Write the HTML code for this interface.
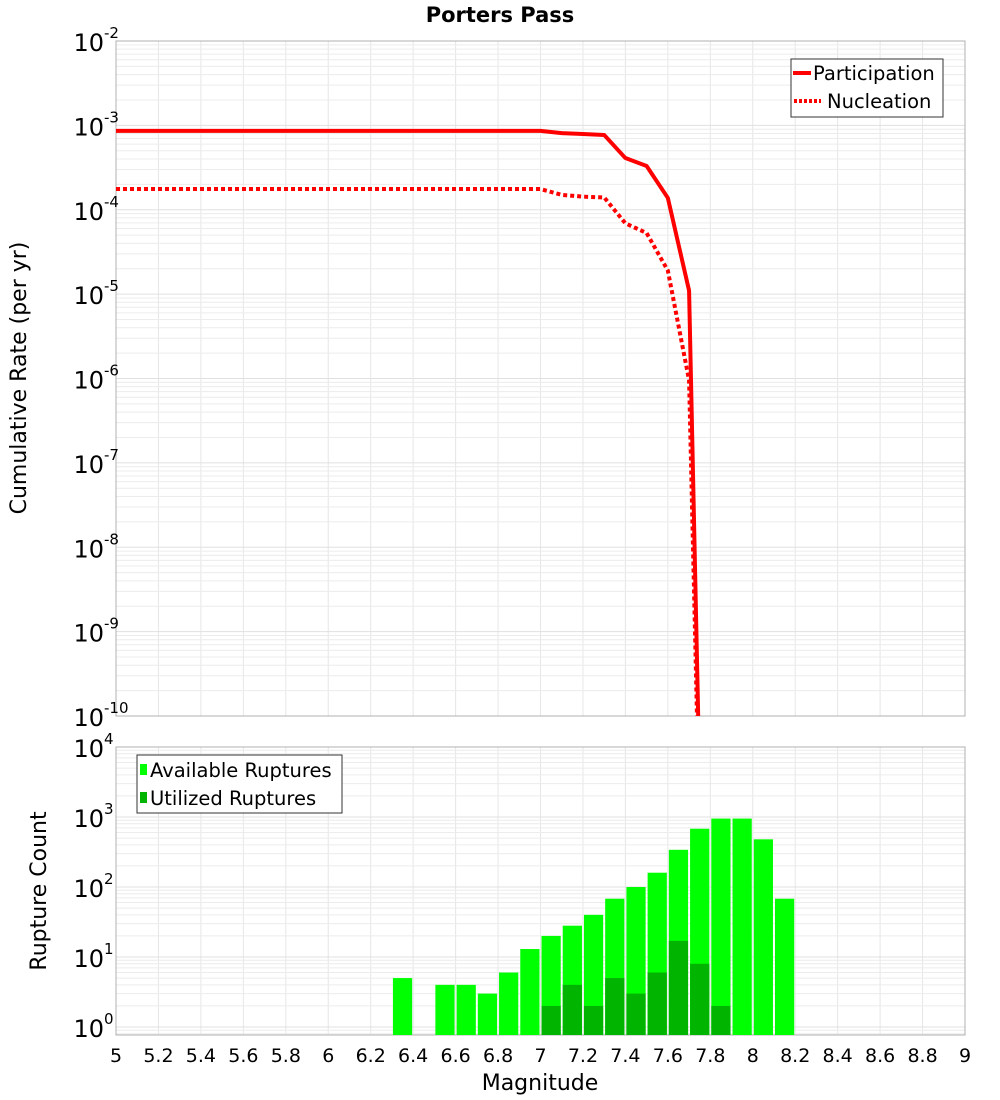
<!DOCTYPE html>
<html><head><meta charset="utf-8"><style>
html,body{margin:0;padding:0;background:#fff;}
svg{display:block;font-family:"DejaVu Sans","Liberation Sans",sans-serif;}
</style></head><body>
<svg id="chart" width="1000" height="1100" viewBox="0 0 1000 1100">
<text x="500" y="22" text-anchor="middle" font-size="21" font-weight="bold">Porters Pass</text>
<g id="gtop"></g>
<g id="gbot"></g>
<text transform="translate(26,378) rotate(-90)" text-anchor="middle" font-size="22">Cumulative Rate (per yr)</text>
<text transform="translate(46,891) rotate(-90)" text-anchor="middle" font-size="22">Rupture Count</text>
<text x="540" y="1090" text-anchor="middle" font-size="22">Magnitude</text>
<g id="legends">
<g>
<rect x="791" y="59" width="152" height="58" fill="#fff" stroke="#333" stroke-width="1"/>
<line x1="793" y1="73" x2="811" y2="73" stroke="#f00" stroke-width="4"/>
<text x="813" y="80" font-size="19.5">Participation</text>
<line x1="794" y1="101" x2="821" y2="101" stroke="#f00" stroke-width="4" stroke-dasharray="3,2"/>
<text x="827" y="108" font-size="19.5">Nucleation</text>
</g>
<g>
<rect x="137" y="755" width="205" height="58" fill="#fff" stroke="#333" stroke-width="1"/>
<rect x="140" y="764" width="7" height="11" fill="#00ff00"/>
<text x="150" y="777" font-size="19.5">Available Ruptures</text>
<rect x="140" y="792" width="7" height="11" fill="#00b400"/>
<text x="150" y="805" font-size="19.5">Utilized Ruptures</text>
</g>
</g>
</svg>
<script>
// data
const rateMags = [5.0,5.1,5.2,5.3,5.4,5.5,5.6,5.7,5.8,5.9,6.0,6.1,6.2,6.3,6.4,6.5,6.6,6.7,6.8,6.9,7.0,7.1,7.2,7.3,7.4,7.5,7.6,7.7,7.8];
const participation = [8.6e-4,8.6e-4,8.6e-4,8.6e-4,8.6e-4,8.6e-4,8.6e-4,8.6e-4,8.6e-4,8.6e-4,8.6e-4,8.6e-4,8.6e-4,8.6e-4,8.6e-4,8.6e-4,8.6e-4,8.6e-4,8.6e-4,8.6e-4,8.6e-4,8.1e-4,7.9e-4,7.7e-4,4.1e-4,3.3e-4,1.38e-4,1.1e-5,2e-17];
const nucleation = [1.76e-4,1.76e-4,1.76e-4,1.76e-4,1.76e-4,1.76e-4,1.76e-4,1.76e-4,1.76e-4,1.76e-4,1.76e-4,1.76e-4,1.76e-4,1.76e-4,1.76e-4,1.76e-4,1.76e-4,1.76e-4,1.76e-4,1.76e-4,1.76e-4,1.5e-4,1.43e-4,1.4e-4,6.9e-5,5.3e-5,1.9e-5,9.5e-7,2e-17];
const binStarts = [6.3,6.5,6.6,6.7,6.8,6.9,7.0,7.1,7.2,7.3,7.4,7.5,7.6,7.7,7.8,7.9,8.0,8.1];
const available = [5,4,4,3,6,13,20,28,40,68,100,160,340,680,950,950,480,68];
const utilBins = [7.0,7.1,7.2,7.3,7.4,7.5,7.6,7.7,7.8];
const utilized = [2,4,2,5,3,6,17,8,2];
const xTicks = [5,5.2,5.4,5.6,5.8,6,6.2,6.4,6.6,6.8,7,7.2,7.4,7.6,7.8,8,8.2,8.4,8.6,8.8,9];
const topExps = [-2,-3,-4,-5,-6,-7,-8,-9,-10];
const botExps = [4,3,2,1,0];

const NS='http://www.w3.org/2000/svg';
const X0=116,X1=965;
const xs=m=>X0+(m-5)/4*(X1-X0);
const T0=41,T1=716;
const yT=v=>T0+(-2-Math.log10(v))*(T1-T0)/8;
const B0=747,B1=1035,BD=70;
const yB=v=>B0+(4-Math.log10(v))*BD;
function mk(p,t,a){const e=document.createElementNS(NS,t);for(const k in a)e.setAttribute(k,a[k]);p.appendChild(e);return e;}
const gTop=document.getElementById('gtop'),gBot=document.getElementById('gbot');
const svgEl=document.getElementById('chart');
const defs=mk(svgEl,'defs',{});
const c1=mk(defs,'clipPath',{id:'ct'});mk(c1,'rect',{x:X0,y:T0,width:X1-X0,height:T1-T0});
const c2=mk(defs,'clipPath',{id:'cb'});mk(c2,'rect',{x:X0,y:B0,width:X1-X0,height:B1-B0});

function grid(g,y0,y1,yf,lo,hi){
  for(let i=0;i<=20;i++){const x=xs(5+i*0.2);const l=mk(g,'line',{x1:x,x2:x,y1:y0,y2:y1,stroke:'#e6e6e6','stroke-width':1});
  
  }
  for(let e=lo;e<hi;e++)for(let k=1;k<10;k++){const y=yf(k*Math.pow(10,e));if(y<y0||y>y1)continue;
  const l=mk(g,'line',{x1:X0,x2:X1,y1:y,y2:y,stroke:k==1?'#e0e0e0':'#ececec','stroke-width':1});
  
  }
}
grid(gTop,T0,T1,yT,-10,-1);
grid(gBot,B0,B1,yB,-1,4);
mk(gTop,'rect',{x:X0,y:T0,width:X1-X0,height:T1-T0,fill:'none',stroke:'#b0b0b0'});
mk(gBot,'rect',{x:X0,y:B0,width:X1-X0,height:B1-B0,fill:'none',stroke:'#b0b0b0'});

function pts(vals){return rateMags.map((m,i)=>xs(m)+','+yT(vals[i])).join(' ');}
const gp=mk(gTop,'g',{'clip-path':'url(#ct)'});
const pl=mk(gp,'polyline',{points:pts(participation),fill:'none',stroke:'#f00','stroke-width':4,'stroke-linejoin':'round'});


const nl=mk(gp,'polyline',{points:pts(nucleation),fill:'none',stroke:'#f00','stroke-width':4,'stroke-dasharray':'4,3'});



topExps.forEach(e=>{const y=yT(Math.pow(10,e));
  const t=mk(gTop,'text',{x:104,y:y+10,'text-anchor':'end','font-size':24});
  
  
  t.textContent='10';
  const s=mk(gTop,'text',{x:104,y:y-3,'font-size':15});
  
  
  s.textContent=String(e);
});
botExps.forEach(e=>{const y=yB(Math.pow(10,e));
  const t=mk(gBot,'text',{x:104,y:y+10,'text-anchor':'end','font-size':24});
  
  
  t.textContent='10';
  const s=mk(gBot,'text',{x:104,y:y-3,'font-size':15});
  
  
  s.textContent=String(e);
});

const gb=mk(gBot,'g',{'clip-path':'url(#cb)'});
const bw=(X1-X0)/40;
binStarts.forEach((m,i)=>{const y=yB(available[i]);
  const r=mk(gb,'rect',{x:xs(m)+1,y:y,width:bw-2,height:B1-y,fill:'#00ff00'});
  
  });
utilBins.forEach((m,i)=>{const y=yB(utilized[i]);
  const r=mk(gb,'rect',{x:xs(m)+1,y:y,width:bw-2,height:B1-y,fill:'#00b400'});
  
  });

xTicks.forEach(m=>{const t=mk(gBot,'text',{x:xs(m),y:1062,'text-anchor':'middle','font-size':19});
  
  
  t.textContent=String(m);});

// keep legends on top
svgEl.appendChild(document.getElementById('legends'));
</script>
</body></html>
